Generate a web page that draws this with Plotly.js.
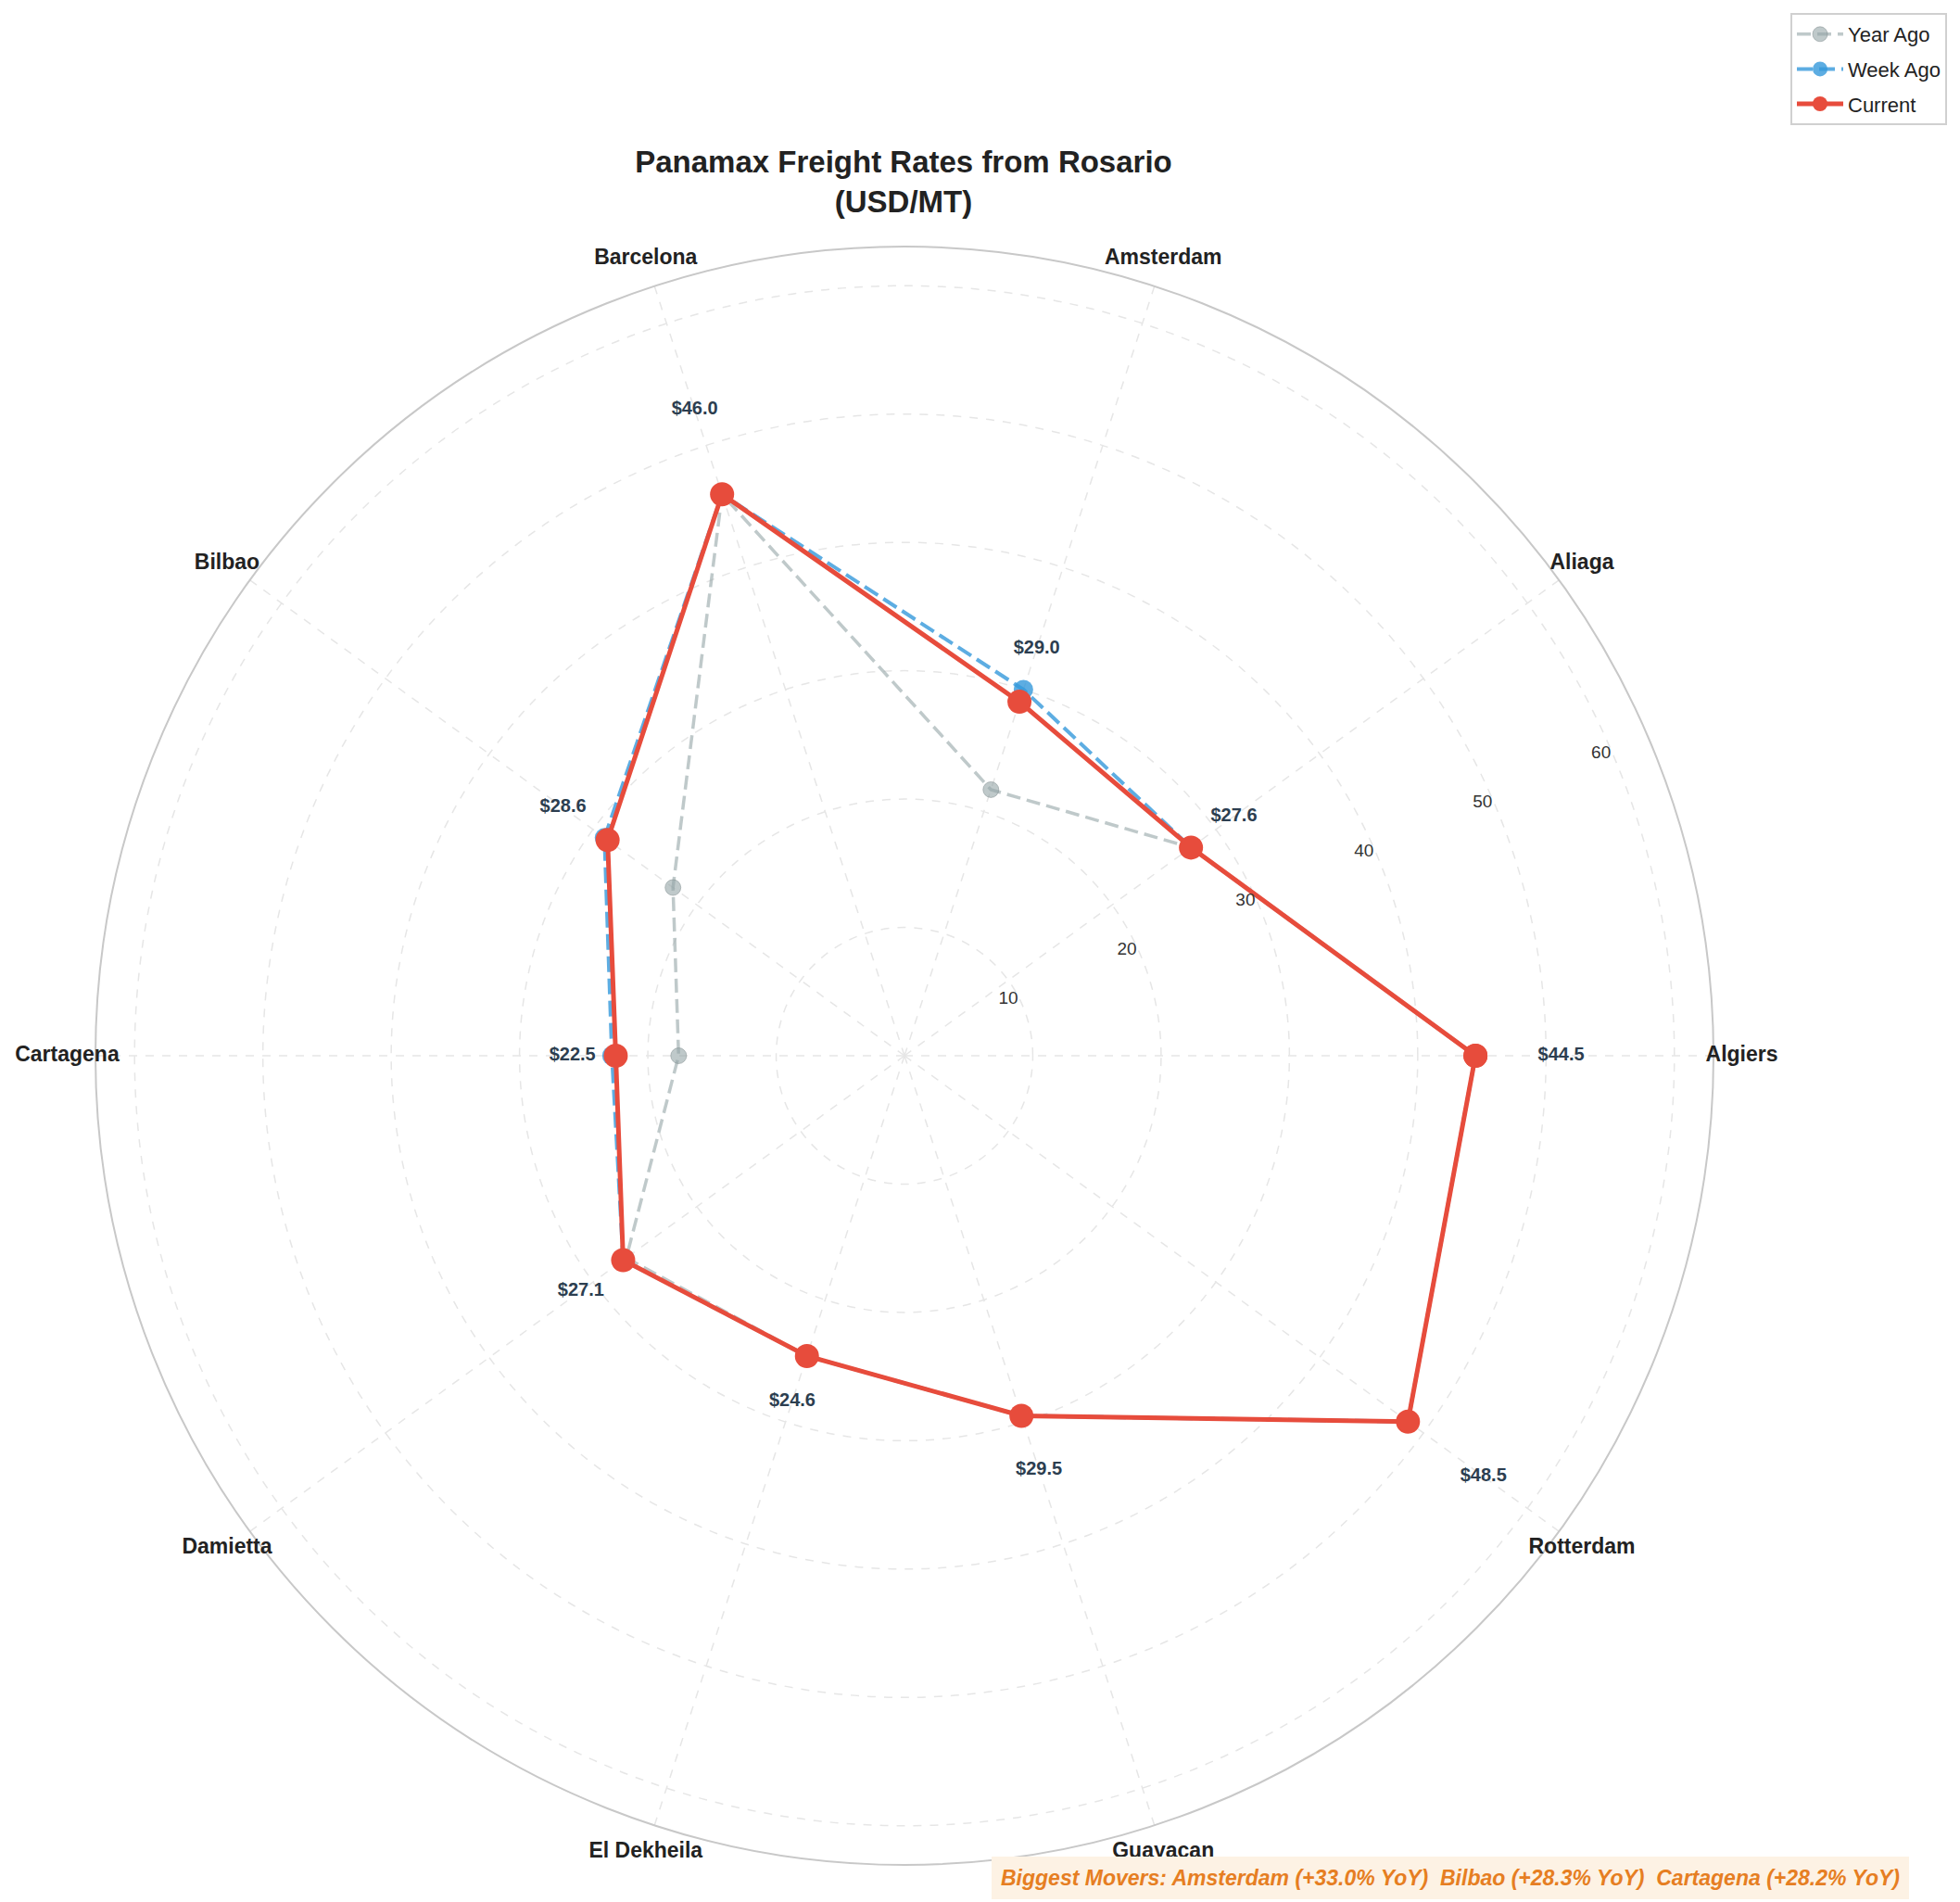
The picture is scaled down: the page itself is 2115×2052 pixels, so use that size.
<!DOCTYPE html>
<html>
<head>
<meta charset="utf-8">
<script src="https://cdn.plot.ly/plotly-3.0.1.min.js"></script>
<style>html,body{margin:0;padding:0;background:#fff;}#chart{width:2115px;height:2052px;}</style>
</head>
<body>
<div id="chart"></div>
<script>
const categories = ['Algiers','Aliaga','Amsterdam','Barcelona','Bilbao','Cartagena','Damietta','El Dekheila','Guayacan','Rotterdam'];
const current = [44.5, 27.6, 29.0, 46.0, 28.6, 22.5, 27.1, 24.6, 29.5, 48.5];
const weekAgo = [44.5, 27.6, 30.0, 46.0, 28.9, 22.8, 27.1, 24.6, 29.5, 48.5];
const yearAgo = [44.5, 27.6, 21.8, 46.0, 22.3, 17.6, 26.8, 24.6, 29.5, 48.5];
const radialTicks = [10, 20, 30, 40, 50, 60];
const moversText = 'Biggest Movers: Amsterdam (+33.0% YoY)  Bilbao (+28.3% YoY)  Cartagena (+28.2% YoY)';

const close = a => a.concat([a[0]]);
const thetaC = close(categories);
const rMax = Math.max(...current) * 1.3;
const FONT = 'Liberation Sans, Arial, sans-serif';

// polar geometry (pixels)
const W = 2115, H = 2052, CX = 976, CY = 913, R = 873;
const labelScale = 1.035, outerScale = 1.045;
const R2 = R * outerScale;

const traces = [
  {
    type: 'scatterpolar', name: 'Year Ago', legendgroup: 'ya', mode: 'lines+markers',
    r: close(yearAgo), theta: thetaC,
    line: {color: 'rgba(149,165,166,0.6)', width: 3.5, dash: '15px,7px'},
    marker: {color: 'rgba(149,165,166,0.6)', size: 17, line: {color: 'rgba(127,140,141,0.5)', width: 1}},
    hoverinfo: 'skip'
  },
  {
    type: 'scatterpolar', name: 'Week Ago', legendgroup: 'wa', mode: 'lines+markers',
    r: close(weekAgo), theta: thetaC,
    line: {color: 'rgba(52,152,219,0.8)', width: 4, dash: '17px,7px'},
    marker: {color: 'rgba(52,152,219,0.8)', size: 21},
    hoverinfo: 'skip'
  },
  {
    type: 'scatterpolar', name: 'Current', legendgroup: 'cu', mode: 'lines+markers',
    r: close(current), theta: thetaC,
    line: {color: '#e74c3c', width: 5},
    marker: {color: '#e74c3c', size: 26},
    hoverinfo: 'skip'
  },
  {
    type: 'scatterpolar', mode: 'text', showlegend: false,
    r: current.map(v => v * 1.15), theta: categories,
    text: current.map(v => '$' + v.toFixed(1)),
    textposition: 'middle center',
    textfont: {family: FONT, size: 20, color: '#2c3e50', weight: 'bold'},
    hoverinfo: 'skip'
  },
  {
    type: 'scatterpolar', subplot: 'polar2', mode: 'text', showlegend: false, cliponaxis: false,
    r: categories.map(() => rMax * labelScale), theta: categories,
    text: categories,
    textposition: 'middle center',
    textfont: {family: FONT, size: 23, color: '#222', weight: 'bold'},
    hoverinfo: 'skip'
  }
];

const layout = {
  width: W, height: H,
  margin: {l: 0, r: 0, t: 0, b: 0},
  paper_bgcolor: '#fff',
  font: {family: FONT, color: '#222'},
  title: {
    text: 'Panamax Freight Rates from Rosario<br>(USD/MT)',
    x: 975 / W, xanchor: 'center', xref: 'paper',
    y: 1 - 186 / H, yanchor: 'middle', yref: 'paper',
    font: {family: FONT, size: 33, color: '#222', weight: 'bold'}
  },
  showlegend: true,
  legend: {
    x: 2101 / W, xanchor: 'right', y: 1 - 14 / H, yanchor: 'top',
    bgcolor: '#fff', bordercolor: '#d0d0d0', borderwidth: 2,
    font: {family: FONT, size: 22, color: '#222'},
    itemwidth: 50, tracegroupgap: 6
  },
  polar: {
    domain: {x: [(CX - R) / W, (CX + R) / W], y: [(CY - R) / H, (CY + R) / H]},
    bgcolor: '#fff',
    radialaxis: {
      range: [0, rMax], tickvals: radialTicks, ticktext: radialTicks.map(String),
      angle: 22.5, side: 'counterclockwise', tickangle: 22.5,
      showline: false, ticks: '',
      gridcolor: '#e6e6e6', griddash: 'dash', gridwidth: 1.5,
      tickfont: {family: FONT, size: 19, color: '#333'}
    },
    angularaxis: {
      type: 'category', categoryarray: categories, categoryorder: 'array',
      rotation: 0, direction: 'counterclockwise',
      showline: true, linecolor: '#c8c8c8', linewidth: 2,
      gridcolor: '#e6e6e6', griddash: 'dash', gridwidth: 1.5,
      ticks: '', showticklabels: false
    }
  },
  polar2: {
    domain: {x: [(CX - R2) / W, (CX + R2) / W], y: [(CY - R2) / H, (CY + R2) / H]},
    bgcolor: 'rgba(0,0,0,0)',
    radialaxis: {range: [0, rMax * outerScale], visible: false, showgrid: false, showline: false, showticklabels: false, ticks: ''},
    angularaxis: {
      type: 'category', categoryarray: categories, categoryorder: 'array',
      rotation: 0, direction: 'counterclockwise',
      visible: false, showgrid: false, showline: false, showticklabels: false, ticks: ''
    }
  },
  annotations: [{
    text: moversText, xref: 'paper', yref: 'paper',
    x: 1565 / W, y: 1 - 2026 / H, xanchor: 'center', yanchor: 'middle',
    showarrow: false,
    font: {family: FONT, size: 23, color: '#e67e22', weight: 'bold', style: 'italic'},
    bgcolor: '#fdf2e4', borderpad: 8, bordercolor: '#fdf2e4', borderwidth: 2
  }]
};

Plotly.newPlot('chart', traces, layout, {displayModeBar: false, staticPlot: true});
</script>
</body>
</html>
